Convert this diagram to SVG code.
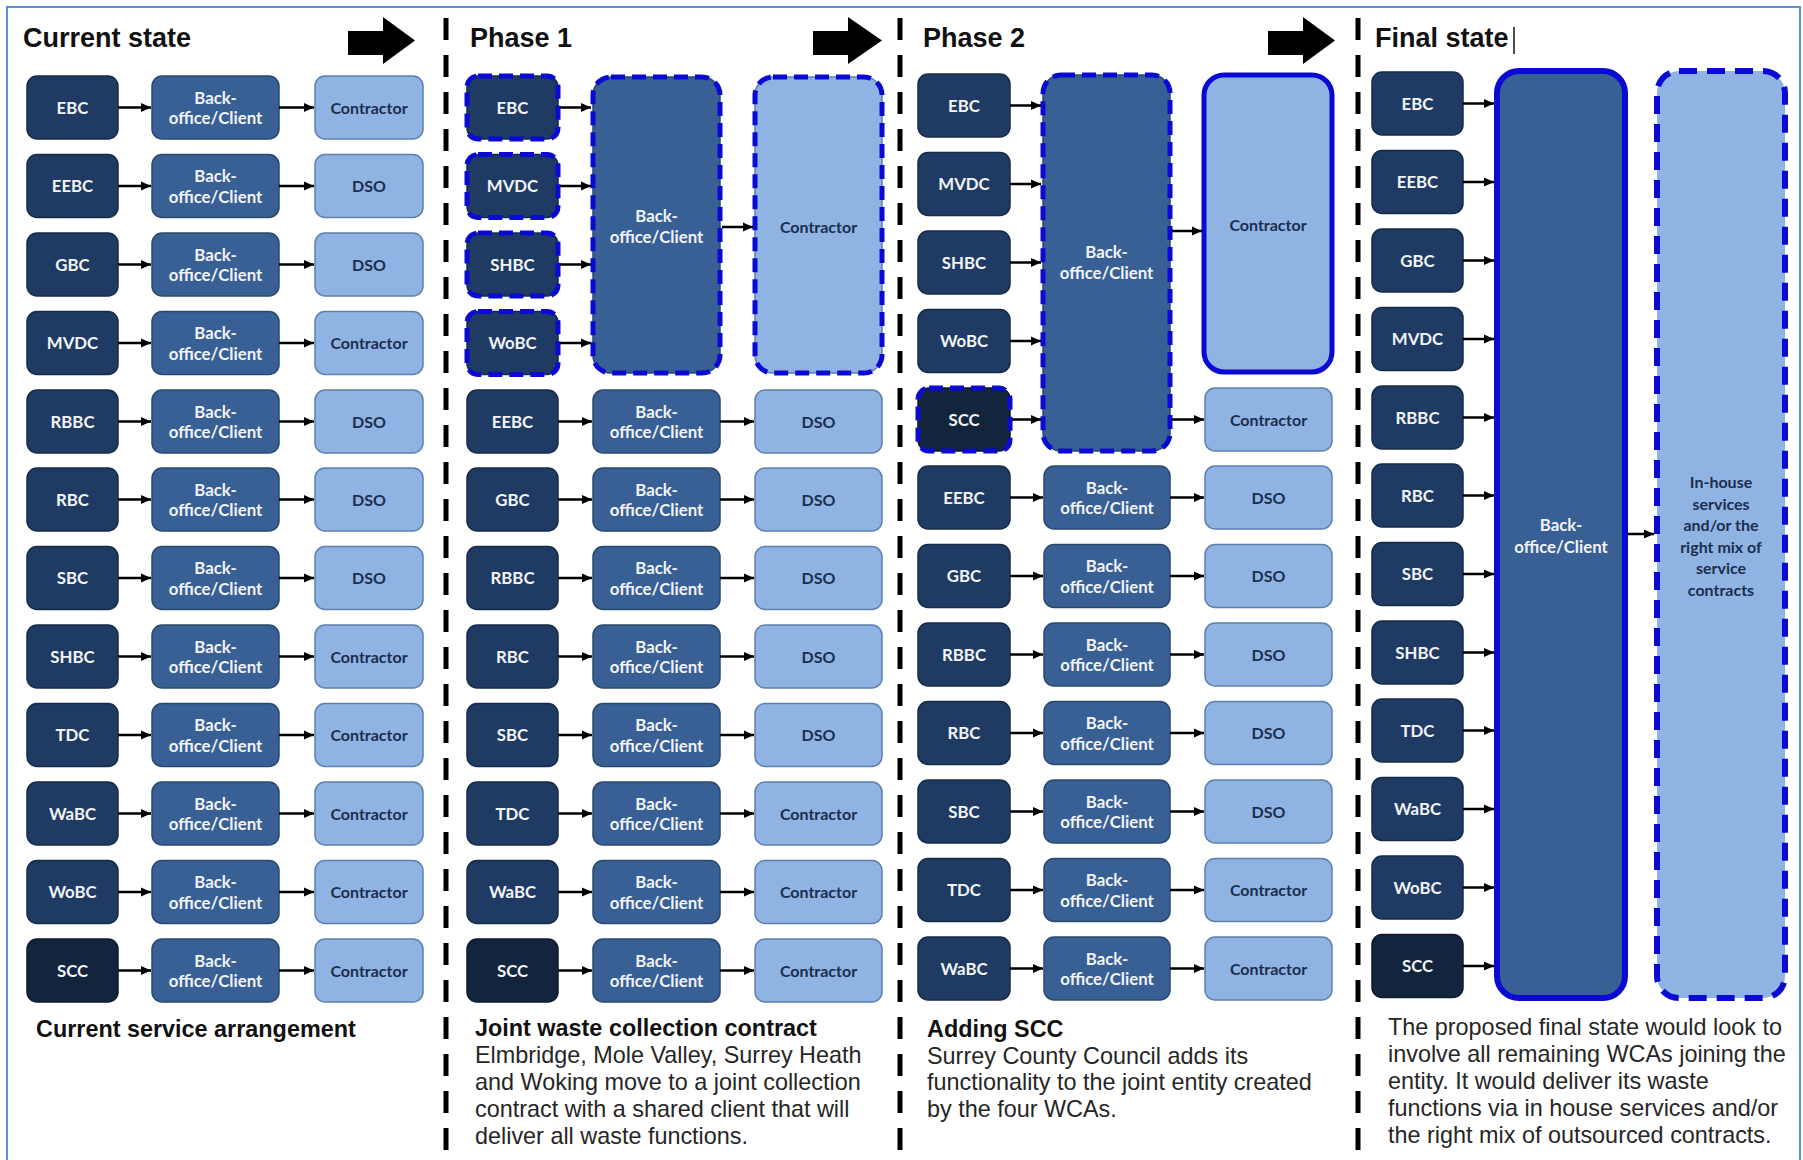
<svg xmlns="http://www.w3.org/2000/svg" width="1803" height="1160" viewBox="0 0 1803 1160">
<defs>
<marker id="ah" viewBox="0 0 10 10" refX="10" refY="5" markerWidth="10" markerHeight="10" markerUnits="userSpaceOnUse" orient="auto"><path d="M0,0.5 L10,5 L0,9.5 z" fill="#000"/></marker>
<style>
.dk{fill:#1f3b63;stroke:#152b4a;stroke-width:1.5}
.sc{fill:#13243d;stroke:#0d1a2e;stroke-width:1.5}
.bo{fill:#386094;stroke:#29496f;stroke-width:1.5}
.lt{fill:#8fb4e3;stroke:#5e80ad;stroke-width:1.5}
.dash{fill:none;stroke:#0a0ad2;stroke-width:5;stroke-dasharray:14 7}
.dashb{fill:none;stroke:#0a0ad2;stroke-width:6;stroke-dasharray:18 10}
.solid{fill:none;stroke:#0a0ad2;stroke-width:6}
.tw{font-family:Lato,"Open Sans",sans-serif;font-weight:700;font-size:16.8px;fill:#f2f4f8;text-anchor:middle}
.tn{font-family:Lato,"Open Sans",sans-serif;font-weight:700;font-size:16px;fill:#1c2e4e;text-anchor:middle}
.title{font-family:"Liberation Sans",Arial,sans-serif;font-weight:700;font-size:27px;fill:#111}
.cap{font-family:"Liberation Sans",Arial,sans-serif;font-size:23.4px;fill:#262626}
.capb{font-family:"Liberation Sans",Arial,sans-serif;font-weight:700;font-size:23.4px;fill:#111}
.con line{stroke:#000;stroke-width:2.5;marker-end:url(#ah)}
.div{stroke:#000;stroke-width:5;stroke-dasharray:22 15}
</style>
</defs>
<rect x="0" y="0" width="1803" height="1160" fill="#fff"/>
<rect x="7" y="7" width="1793" height="1170" fill="none" stroke="#5b8fd6" stroke-width="2"/>

<!-- dividers -->
<g id="dividers">
<line class="div" x1="446" y1="18" x2="446" y2="1150"/>
<line class="div" x1="900" y1="18" x2="900" y2="1150"/>
<line class="div" x1="1358" y1="18" x2="1358" y2="1150"/>
</g>

<!-- titles and big arrows -->
<g id="titles">
<text class="title" x="23" y="47">Current state</text>
<text class="title" x="470" y="47">Phase 1</text>
<text class="title" x="923" y="47">Phase 2</text>
<text class="title" x="1375" y="47">Final state</text>
<line x1="1514" y1="27" x2="1514" y2="54" stroke="#111" stroke-width="1.5"/>
</g>
<g id="stage-arrows" fill="#000">
<polygon points="348,31 383,31 383,17 415,40.5 383,64 383,55 348,55"/>
<polygon points="813,31 848,31 848,17 882,40.5 848,64 848,55 813,55"/>
<polygon points="1268,31 1303,31 1303,17 1335,40.5 1303,64 1303,55 1268,55"/>
</g>

<!-- ===== Column 1: Current state ===== -->
<g id="c1-ebc"><rect class="dk" x="27" y="76" width="91" height="63" rx="10"/><text class="tw" x="72.5" y="113.5">EBC</text></g>
<g id="c1-bo0"><rect class="bo" x="152" y="76" width="127" height="63" rx="10"/><text class="tw" x="215.5" y="103.5">Back-</text><text class="tw" x="215.5" y="124">office/Client</text></g>
<g id="c1-l0"><rect class="lt" x="315" y="76" width="108" height="63" rx="10"/><text class="tn" x="369" y="113.5">Contractor</text></g>

<g id="c1-eebc"><rect class="dk" x="27" y="154.5" width="91" height="63" rx="10"/><text class="tw" x="72.5" y="192">EEBC</text></g>
<g id="c1-bo1"><rect class="bo" x="152" y="154.5" width="127" height="63" rx="10"/><text class="tw" x="215.5" y="182">Back-</text><text class="tw" x="215.5" y="202.5">office/Client</text></g>
<g id="c1-l1"><rect class="lt" x="315" y="154.5" width="108" height="63" rx="10"/><text class="tn" x="369" y="192">DSO</text></g>

<g id="c1-gbc"><rect class="dk" x="27" y="233" width="91" height="63" rx="10"/><text class="tw" x="72.5" y="270.5">GBC</text></g>
<g id="c1-bo2"><rect class="bo" x="152" y="233" width="127" height="63" rx="10"/><text class="tw" x="215.5" y="260.5">Back-</text><text class="tw" x="215.5" y="281">office/Client</text></g>
<g id="c1-l2"><rect class="lt" x="315" y="233" width="108" height="63" rx="10"/><text class="tn" x="369" y="270.5">DSO</text></g>

<g id="c1-mvdc"><rect class="dk" x="27" y="311.5" width="91" height="63" rx="10"/><text class="tw" x="72.5" y="349">MVDC</text></g>
<g id="c1-bo3"><rect class="bo" x="152" y="311.5" width="127" height="63" rx="10"/><text class="tw" x="215.5" y="339">Back-</text><text class="tw" x="215.5" y="359.5">office/Client</text></g>
<g id="c1-l3"><rect class="lt" x="315" y="311.5" width="108" height="63" rx="10"/><text class="tn" x="369" y="349">Contractor</text></g>

<g id="c1-rbbc"><rect class="dk" x="27" y="390" width="91" height="63" rx="10"/><text class="tw" x="72.5" y="427.5">RBBC</text></g>
<g id="c1-bo4"><rect class="bo" x="152" y="390" width="127" height="63" rx="10"/><text class="tw" x="215.5" y="417.5">Back-</text><text class="tw" x="215.5" y="438">office/Client</text></g>
<g id="c1-l4"><rect class="lt" x="315" y="390" width="108" height="63" rx="10"/><text class="tn" x="369" y="427.5">DSO</text></g>

<g id="c1-rbc"><rect class="dk" x="27" y="468" width="91" height="63" rx="10"/><text class="tw" x="72.5" y="505.5">RBC</text></g>
<g id="c1-bo5"><rect class="bo" x="152" y="468" width="127" height="63" rx="10"/><text class="tw" x="215.5" y="495.5">Back-</text><text class="tw" x="215.5" y="516">office/Client</text></g>
<g id="c1-l5"><rect class="lt" x="315" y="468" width="108" height="63" rx="10"/><text class="tn" x="369" y="505.5">DSO</text></g>

<g id="c1-sbc"><rect class="dk" x="27" y="546.5" width="91" height="63" rx="10"/><text class="tw" x="72.5" y="584">SBC</text></g>
<g id="c1-bo6"><rect class="bo" x="152" y="546.5" width="127" height="63" rx="10"/><text class="tw" x="215.5" y="574">Back-</text><text class="tw" x="215.5" y="594.5">office/Client</text></g>
<g id="c1-l6"><rect class="lt" x="315" y="546.5" width="108" height="63" rx="10"/><text class="tn" x="369" y="584">DSO</text></g>

<g id="c1-shbc"><rect class="dk" x="27" y="625" width="91" height="63" rx="10"/><text class="tw" x="72.5" y="662.5">SHBC</text></g>
<g id="c1-bo7"><rect class="bo" x="152" y="625" width="127" height="63" rx="10"/><text class="tw" x="215.5" y="652.5">Back-</text><text class="tw" x="215.5" y="673">office/Client</text></g>
<g id="c1-l7"><rect class="lt" x="315" y="625" width="108" height="63" rx="10"/><text class="tn" x="369" y="662.5">Contractor</text></g>

<g id="c1-tdc"><rect class="dk" x="27" y="703.5" width="91" height="63" rx="10"/><text class="tw" x="72.5" y="741">TDC</text></g>
<g id="c1-bo8"><rect class="bo" x="152" y="703.5" width="127" height="63" rx="10"/><text class="tw" x="215.5" y="731">Back-</text><text class="tw" x="215.5" y="751.5">office/Client</text></g>
<g id="c1-l8"><rect class="lt" x="315" y="703.5" width="108" height="63" rx="10"/><text class="tn" x="369" y="741">Contractor</text></g>

<g id="c1-wabc"><rect class="dk" x="27" y="782" width="91" height="63" rx="10"/><text class="tw" x="72.5" y="819.5">WaBC</text></g>
<g id="c1-bo9"><rect class="bo" x="152" y="782" width="127" height="63" rx="10"/><text class="tw" x="215.5" y="809.5">Back-</text><text class="tw" x="215.5" y="830">office/Client</text></g>
<g id="c1-l9"><rect class="lt" x="315" y="782" width="108" height="63" rx="10"/><text class="tn" x="369" y="819.5">Contractor</text></g>

<g id="c1-wobc"><rect class="dk" x="27" y="860.5" width="91" height="63" rx="10"/><text class="tw" x="72.5" y="898">WoBC</text></g>
<g id="c1-bo10"><rect class="bo" x="152" y="860.5" width="127" height="63" rx="10"/><text class="tw" x="215.5" y="888">Back-</text><text class="tw" x="215.5" y="908.5">office/Client</text></g>
<g id="c1-l10"><rect class="lt" x="315" y="860.5" width="108" height="63" rx="10"/><text class="tn" x="369" y="898">Contractor</text></g>

<g id="c1-scc"><rect class="sc" x="27" y="939" width="91" height="63" rx="10"/><text class="tw" x="72.5" y="976.5">SCC</text></g>
<g id="c1-bo11"><rect class="bo" x="152" y="939" width="127" height="63" rx="10"/><text class="tw" x="215.5" y="966.5">Back-</text><text class="tw" x="215.5" y="987">office/Client</text></g>
<g id="c1-l11"><rect class="lt" x="315" y="939" width="108" height="63" rx="10"/><text class="tn" x="369" y="976.5">Contractor</text></g>

<!-- ===== Column 2: Phase 1 ===== -->
<g id="c2-ebc"><rect class="dk" x="467" y="76" width="91" height="63" rx="11"/><rect class="dash" x="467" y="76" width="91" height="63" rx="11"/><text class="tw" x="512.5" y="113.5">EBC</text></g>
<g id="c2-mvdc"><rect class="dk" x="467" y="154.5" width="91" height="63" rx="11"/><rect class="dash" x="467" y="154.5" width="91" height="63" rx="11"/><text class="tw" x="512.5" y="192">MVDC</text></g>
<g id="c2-shbc"><rect class="dk" x="467" y="233" width="91" height="63" rx="11"/><rect class="dash" x="467" y="233" width="91" height="63" rx="11"/><text class="tw" x="512.5" y="270.5">SHBC</text></g>
<g id="c2-wobc"><rect class="dk" x="467" y="311.5" width="91" height="63" rx="11"/><rect class="dash" x="467" y="311.5" width="91" height="63" rx="11"/><text class="tw" x="512.5" y="349">WoBC</text></g>
<g id="c2-bo-joint"><rect class="bo" x="593" y="77" width="127" height="296" rx="18"/><rect class="dash" x="593" y="77" width="127" height="296" rx="18"/><text class="tw" x="656.5" y="222">Back-</text><text class="tw" x="656.5" y="242.5">office/Client</text></g>
<g id="c2-con-joint"><rect class="lt" x="755" y="77" width="127" height="296" rx="18"/><rect class="dash" x="755" y="77" width="127" height="296" rx="18"/><text class="tn" x="818.5" y="233">Contractor</text></g>

<g id="c2-eebc"><rect class="dk" x="467" y="390" width="91" height="63" rx="10"/><text class="tw" x="512.5" y="427.5">EEBC</text></g>
<g id="c2-bo4"><rect class="bo" x="593" y="390" width="127" height="63" rx="10"/><text class="tw" x="656.5" y="417.5">Back-</text><text class="tw" x="656.5" y="438">office/Client</text></g>
<g id="c2-l4"><rect class="lt" x="755" y="390" width="127" height="63" rx="10"/><text class="tn" x="818.5" y="427.5">DSO</text></g>

<g id="c2-gbc"><rect class="dk" x="467" y="468" width="91" height="63" rx="10"/><text class="tw" x="512.5" y="505.5">GBC</text></g>
<g id="c2-bo5"><rect class="bo" x="593" y="468" width="127" height="63" rx="10"/><text class="tw" x="656.5" y="495.5">Back-</text><text class="tw" x="656.5" y="516">office/Client</text></g>
<g id="c2-l5"><rect class="lt" x="755" y="468" width="127" height="63" rx="10"/><text class="tn" x="818.5" y="505.5">DSO</text></g>

<g id="c2-rbbc"><rect class="dk" x="467" y="546.5" width="91" height="63" rx="10"/><text class="tw" x="512.5" y="584">RBBC</text></g>
<g id="c2-bo6"><rect class="bo" x="593" y="546.5" width="127" height="63" rx="10"/><text class="tw" x="656.5" y="574">Back-</text><text class="tw" x="656.5" y="594.5">office/Client</text></g>
<g id="c2-l6"><rect class="lt" x="755" y="546.5" width="127" height="63" rx="10"/><text class="tn" x="818.5" y="584">DSO</text></g>

<g id="c2-rbc"><rect class="dk" x="467" y="625" width="91" height="63" rx="10"/><text class="tw" x="512.5" y="662.5">RBC</text></g>
<g id="c2-bo7"><rect class="bo" x="593" y="625" width="127" height="63" rx="10"/><text class="tw" x="656.5" y="652.5">Back-</text><text class="tw" x="656.5" y="673">office/Client</text></g>
<g id="c2-l7"><rect class="lt" x="755" y="625" width="127" height="63" rx="10"/><text class="tn" x="818.5" y="662.5">DSO</text></g>

<g id="c2-sbc"><rect class="dk" x="467" y="703.5" width="91" height="63" rx="10"/><text class="tw" x="512.5" y="741">SBC</text></g>
<g id="c2-bo8"><rect class="bo" x="593" y="703.5" width="127" height="63" rx="10"/><text class="tw" x="656.5" y="731">Back-</text><text class="tw" x="656.5" y="751.5">office/Client</text></g>
<g id="c2-l8"><rect class="lt" x="755" y="703.5" width="127" height="63" rx="10"/><text class="tn" x="818.5" y="741">DSO</text></g>

<g id="c2-tdc"><rect class="dk" x="467" y="782" width="91" height="63" rx="10"/><text class="tw" x="512.5" y="819.5">TDC</text></g>
<g id="c2-bo9"><rect class="bo" x="593" y="782" width="127" height="63" rx="10"/><text class="tw" x="656.5" y="809.5">Back-</text><text class="tw" x="656.5" y="830">office/Client</text></g>
<g id="c2-l9"><rect class="lt" x="755" y="782" width="127" height="63" rx="10"/><text class="tn" x="818.5" y="819.5">Contractor</text></g>

<g id="c2-wabc"><rect class="dk" x="467" y="860.5" width="91" height="63" rx="10"/><text class="tw" x="512.5" y="898">WaBC</text></g>
<g id="c2-bo10"><rect class="bo" x="593" y="860.5" width="127" height="63" rx="10"/><text class="tw" x="656.5" y="888">Back-</text><text class="tw" x="656.5" y="908.5">office/Client</text></g>
<g id="c2-l10"><rect class="lt" x="755" y="860.5" width="127" height="63" rx="10"/><text class="tn" x="818.5" y="898">Contractor</text></g>

<g id="c2-scc"><rect class="sc" x="467" y="939" width="91" height="63" rx="10"/><text class="tw" x="512.5" y="976.5">SCC</text></g>
<g id="c2-bo11"><rect class="bo" x="593" y="939" width="127" height="63" rx="10"/><text class="tw" x="656.5" y="966.5">Back-</text><text class="tw" x="656.5" y="987">office/Client</text></g>
<g id="c2-l11"><rect class="lt" x="755" y="939" width="127" height="63" rx="10"/><text class="tn" x="818.5" y="976.5">Contractor</text></g>

<!-- ===== Column 3: Phase 2 ===== -->
<g id="c3-ebc"><rect class="dk" x="918" y="74" width="92" height="63" rx="10"/><text class="tw" x="964" y="111.5">EBC</text></g>
<g id="c3-mvdc"><rect class="dk" x="918" y="152.5" width="92" height="63" rx="10"/><text class="tw" x="964" y="190">MVDC</text></g>
<g id="c3-shbc"><rect class="dk" x="918" y="231" width="92" height="63" rx="10"/><text class="tw" x="964" y="268.5">SHBC</text></g>
<g id="c3-wobc"><rect class="dk" x="918" y="309.5" width="92" height="63" rx="10"/><text class="tw" x="964" y="347">WoBC</text></g>
<g id="c3-scc"><rect class="sc" x="918" y="388" width="92" height="63" rx="11"/><rect class="dash" x="918" y="388" width="92" height="63" rx="11"/><text class="tw" x="964" y="425.5">SCC</text></g>
<g id="c3-bo-joint"><rect class="bo" x="1043" y="75" width="127" height="376" rx="18"/><rect class="dash" x="1043" y="75" width="127" height="376" rx="18"/><text class="tw" x="1106.5" y="258">Back-</text><text class="tw" x="1106.5" y="278.5">office/Client</text></g>
<g id="c3-con-joint"><rect class="lt" x="1204" y="75" width="128" height="297" rx="20"/><rect class="solid" x="1204" y="75" width="128" height="297" rx="20" style="stroke-width:5"/><text class="tn" x="1268" y="231">Contractor</text></g>
<g id="c3-l4"><rect class="lt" x="1205" y="388" width="127" height="63" rx="10"/><text class="tn" x="1268.5" y="425.5">Contractor</text></g>

<g id="c3-eebc"><rect class="dk" x="918" y="466" width="92" height="63" rx="10"/><text class="tw" x="964" y="503.5">EEBC</text></g>
<g id="c3-bo5"><rect class="bo" x="1044" y="466" width="126" height="63" rx="10"/><text class="tw" x="1107" y="493.5">Back-</text><text class="tw" x="1107" y="514">office/Client</text></g>
<g id="c3-l5"><rect class="lt" x="1205" y="466" width="127" height="63" rx="10"/><text class="tn" x="1268.5" y="503.5">DSO</text></g>

<g id="c3-gbc"><rect class="dk" x="918" y="544.5" width="92" height="63" rx="10"/><text class="tw" x="964" y="582">GBC</text></g>
<g id="c3-bo6"><rect class="bo" x="1044" y="544.5" width="126" height="63" rx="10"/><text class="tw" x="1107" y="572">Back-</text><text class="tw" x="1107" y="592.5">office/Client</text></g>
<g id="c3-l6"><rect class="lt" x="1205" y="544.5" width="127" height="63" rx="10"/><text class="tn" x="1268.5" y="582">DSO</text></g>

<g id="c3-rbbc"><rect class="dk" x="918" y="623" width="92" height="63" rx="10"/><text class="tw" x="964" y="660.5">RBBC</text></g>
<g id="c3-bo7"><rect class="bo" x="1044" y="623" width="126" height="63" rx="10"/><text class="tw" x="1107" y="650.5">Back-</text><text class="tw" x="1107" y="671">office/Client</text></g>
<g id="c3-l7"><rect class="lt" x="1205" y="623" width="127" height="63" rx="10"/><text class="tn" x="1268.5" y="660.5">DSO</text></g>

<g id="c3-rbc"><rect class="dk" x="918" y="701.5" width="92" height="63" rx="10"/><text class="tw" x="964" y="739">RBC</text></g>
<g id="c3-bo8"><rect class="bo" x="1044" y="701.5" width="126" height="63" rx="10"/><text class="tw" x="1107" y="729">Back-</text><text class="tw" x="1107" y="749.5">office/Client</text></g>
<g id="c3-l8"><rect class="lt" x="1205" y="701.5" width="127" height="63" rx="10"/><text class="tn" x="1268.5" y="739">DSO</text></g>

<g id="c3-sbc"><rect class="dk" x="918" y="780" width="92" height="63" rx="10"/><text class="tw" x="964" y="817.5">SBC</text></g>
<g id="c3-bo9"><rect class="bo" x="1044" y="780" width="126" height="63" rx="10"/><text class="tw" x="1107" y="807.5">Back-</text><text class="tw" x="1107" y="828">office/Client</text></g>
<g id="c3-l9"><rect class="lt" x="1205" y="780" width="127" height="63" rx="10"/><text class="tn" x="1268.5" y="817.5">DSO</text></g>

<g id="c3-tdc"><rect class="dk" x="918" y="858.5" width="92" height="63" rx="10"/><text class="tw" x="964" y="896">TDC</text></g>
<g id="c3-bo10"><rect class="bo" x="1044" y="858.5" width="126" height="63" rx="10"/><text class="tw" x="1107" y="886">Back-</text><text class="tw" x="1107" y="906.5">office/Client</text></g>
<g id="c3-l10"><rect class="lt" x="1205" y="858.5" width="127" height="63" rx="10"/><text class="tn" x="1268.5" y="896">Contractor</text></g>

<g id="c3-wabc"><rect class="dk" x="918" y="937" width="92" height="63" rx="10"/><text class="tw" x="964" y="974.5">WaBC</text></g>
<g id="c3-bo11"><rect class="bo" x="1044" y="937" width="126" height="63" rx="10"/><text class="tw" x="1107" y="964.5">Back-</text><text class="tw" x="1107" y="985">office/Client</text></g>
<g id="c3-l11"><rect class="lt" x="1205" y="937" width="127" height="63" rx="10"/><text class="tn" x="1268.5" y="974.5">Contractor</text></g>

<!-- ===== Column 4: Final state ===== -->
<g id="c4-ebc"><rect class="dk" x="1372" y="72" width="91" height="63" rx="10"/><text class="tw" x="1417.5" y="109.5">EBC</text></g>
<g id="c4-eebc"><rect class="dk" x="1372" y="150.5" width="91" height="63" rx="10"/><text class="tw" x="1417.5" y="188">EEBC</text></g>
<g id="c4-gbc"><rect class="dk" x="1372" y="229" width="91" height="63" rx="10"/><text class="tw" x="1417.5" y="266.5">GBC</text></g>
<g id="c4-mvdc"><rect class="dk" x="1372" y="307.5" width="91" height="63" rx="10"/><text class="tw" x="1417.5" y="345">MVDC</text></g>
<g id="c4-rbbc"><rect class="dk" x="1372" y="386" width="91" height="63" rx="10"/><text class="tw" x="1417.5" y="423.5">RBBC</text></g>
<g id="c4-rbc"><rect class="dk" x="1372" y="464" width="91" height="63" rx="10"/><text class="tw" x="1417.5" y="501.5">RBC</text></g>
<g id="c4-sbc"><rect class="dk" x="1372" y="542.5" width="91" height="63" rx="10"/><text class="tw" x="1417.5" y="580">SBC</text></g>
<g id="c4-shbc"><rect class="dk" x="1372" y="621" width="91" height="63" rx="10"/><text class="tw" x="1417.5" y="658.5">SHBC</text></g>
<g id="c4-tdc"><rect class="dk" x="1372" y="699" width="91" height="63" rx="10"/><text class="tw" x="1417.5" y="736.5">TDC</text></g>
<g id="c4-wabc"><rect class="dk" x="1372" y="777.5" width="91" height="63" rx="10"/><text class="tw" x="1417.5" y="815">WaBC</text></g>
<g id="c4-wobc"><rect class="dk" x="1372" y="856" width="91" height="63" rx="10"/><text class="tw" x="1417.5" y="893.5">WoBC</text></g>
<g id="c4-scc"><rect class="sc" x="1372" y="934.5" width="91" height="63" rx="10"/><text class="tw" x="1417.5" y="972">SCC</text></g>
<g id="c4-bo"><rect class="bo" x="1497" y="71" width="128" height="927" rx="22"/><rect class="solid" x="1497" y="71" width="128" height="927" rx="22"/><text class="tw" x="1561" y="531">Back-</text><text class="tw" x="1561" y="553">office/Client</text></g>
<g id="c4-services"><rect class="lt" x="1657" y="71" width="128" height="927" rx="22" style="stroke:none"/><rect class="dashb" x="1657" y="71" width="128" height="927" rx="22"/>
<text class="tn" x="1721" y="488">In-house</text><text class="tn" x="1721" y="509.5">services</text><text class="tn" x="1721" y="531">and/or the</text><text class="tn" x="1721" y="552.5">right mix of</text><text class="tn" x="1721" y="574">service</text><text class="tn" x="1721" y="596">contracts</text></g>

<!-- ===== Connectors ===== -->
<g id="connectors" class="con">
<line x1="118" y1="107.5" x2="151" y2="107.5"/><line x1="279" y1="107.5" x2="314" y2="107.5"/>
<line x1="118" y1="186" x2="151" y2="186"/><line x1="279" y1="186" x2="314" y2="186"/>
<line x1="118" y1="264.5" x2="151" y2="264.5"/><line x1="279" y1="264.5" x2="314" y2="264.5"/>
<line x1="118" y1="343" x2="151" y2="343"/><line x1="279" y1="343" x2="314" y2="343"/>
<line x1="118" y1="421.5" x2="151" y2="421.5"/><line x1="279" y1="421.5" x2="314" y2="421.5"/>
<line x1="118" y1="499.5" x2="151" y2="499.5"/><line x1="279" y1="499.5" x2="314" y2="499.5"/>
<line x1="118" y1="578" x2="151" y2="578"/><line x1="279" y1="578" x2="314" y2="578"/>
<line x1="118" y1="656.5" x2="151" y2="656.5"/><line x1="279" y1="656.5" x2="314" y2="656.5"/>
<line x1="118" y1="735" x2="151" y2="735"/><line x1="279" y1="735" x2="314" y2="735"/>
<line x1="118" y1="813.5" x2="151" y2="813.5"/><line x1="279" y1="813.5" x2="314" y2="813.5"/>
<line x1="118" y1="892" x2="151" y2="892"/><line x1="279" y1="892" x2="314" y2="892"/>
<line x1="118" y1="970.5" x2="151" y2="970.5"/><line x1="279" y1="970.5" x2="314" y2="970.5"/>

<line x1="560" y1="107.5" x2="591" y2="107.5"/>
<line x1="560" y1="186" x2="591" y2="186"/>
<line x1="560" y1="264.5" x2="591" y2="264.5"/>
<line x1="560" y1="343" x2="591" y2="343"/>
<line x1="722" y1="227" x2="753" y2="227"/>
<line x1="558" y1="421.5" x2="592" y2="421.5"/><line x1="720" y1="421.5" x2="754" y2="421.5"/>
<line x1="558" y1="499.5" x2="592" y2="499.5"/><line x1="720" y1="499.5" x2="754" y2="499.5"/>
<line x1="558" y1="578" x2="592" y2="578"/><line x1="720" y1="578" x2="754" y2="578"/>
<line x1="558" y1="656.5" x2="592" y2="656.5"/><line x1="720" y1="656.5" x2="754" y2="656.5"/>
<line x1="558" y1="735" x2="592" y2="735"/><line x1="720" y1="735" x2="754" y2="735"/>
<line x1="558" y1="813.5" x2="592" y2="813.5"/><line x1="720" y1="813.5" x2="754" y2="813.5"/>
<line x1="558" y1="892" x2="592" y2="892"/><line x1="720" y1="892" x2="754" y2="892"/>
<line x1="558" y1="970.5" x2="592" y2="970.5"/><line x1="720" y1="970.5" x2="754" y2="970.5"/>

<line x1="1010" y1="105.5" x2="1041" y2="105.5"/>
<line x1="1010" y1="184" x2="1041" y2="184"/>
<line x1="1010" y1="262.5" x2="1041" y2="262.5"/>
<line x1="1010" y1="341" x2="1041" y2="341"/>
<line x1="1012" y1="419.5" x2="1041" y2="419.5"/>
<line x1="1172" y1="231" x2="1202" y2="231"/>
<line x1="1172" y1="419.5" x2="1204" y2="419.5"/>
<line x1="1010" y1="497.5" x2="1043" y2="497.5"/><line x1="1170" y1="497.5" x2="1204" y2="497.5"/>
<line x1="1010" y1="576" x2="1043" y2="576"/><line x1="1170" y1="576" x2="1204" y2="576"/>
<line x1="1010" y1="654.5" x2="1043" y2="654.5"/><line x1="1170" y1="654.5" x2="1204" y2="654.5"/>
<line x1="1010" y1="733" x2="1043" y2="733"/><line x1="1170" y1="733" x2="1204" y2="733"/>
<line x1="1010" y1="811.5" x2="1043" y2="811.5"/><line x1="1170" y1="811.5" x2="1204" y2="811.5"/>
<line x1="1010" y1="890" x2="1043" y2="890"/><line x1="1170" y1="890" x2="1204" y2="890"/>
<line x1="1010" y1="968.5" x2="1043" y2="968.5"/><line x1="1170" y1="968.5" x2="1204" y2="968.5"/>

<line x1="1463" y1="103.5" x2="1494" y2="103.5"/>
<line x1="1463" y1="182" x2="1494" y2="182"/>
<line x1="1463" y1="260.5" x2="1494" y2="260.5"/>
<line x1="1463" y1="339" x2="1494" y2="339"/>
<line x1="1463" y1="417.5" x2="1494" y2="417.5"/>
<line x1="1463" y1="495.5" x2="1494" y2="495.5"/>
<line x1="1463" y1="574" x2="1494" y2="574"/>
<line x1="1463" y1="652.5" x2="1494" y2="652.5"/>
<line x1="1463" y1="730.5" x2="1494" y2="730.5"/>
<line x1="1463" y1="809" x2="1494" y2="809"/>
<line x1="1463" y1="887.5" x2="1494" y2="887.5"/>
<line x1="1463" y1="966" x2="1494" y2="966"/>
<line x1="1628" y1="534" x2="1654" y2="534"/>
</g>

<!-- ===== Captions ===== -->
<g id="captions">
<text class="capb" x="36" y="1037">Current service arrangement</text>
<text class="capb" x="475" y="1036">Joint waste collection contract</text>
<text class="cap" x="475" y="1063">Elmbridge, Mole Valley, Surrey Heath</text>
<text class="cap" x="475" y="1090">and Woking move to a joint collection</text>
<text class="cap" x="475" y="1116.5">contract with a shared client that will</text>
<text class="cap" x="475" y="1143.5">deliver all waste functions.</text>
<text class="capb" x="927" y="1036.5">Adding SCC</text>
<text class="cap" x="927" y="1063.5">Surrey County Council adds its</text>
<text class="cap" x="927" y="1090">functionality to the joint entity created</text>
<text class="cap" x="927" y="1116.5">by the four WCAs.</text>
<text class="cap" x="1388" y="1035">The proposed final state would look to</text>
<text class="cap" x="1388" y="1062">involve all remaining WCAs joining the</text>
<text class="cap" x="1388" y="1089">entity. It would deliver its waste</text>
<text class="cap" x="1388" y="1116">functions via in house services and/or</text>
<text class="cap" x="1388" y="1143">the right mix of outsourced contracts.</text>
</g>
</svg>
